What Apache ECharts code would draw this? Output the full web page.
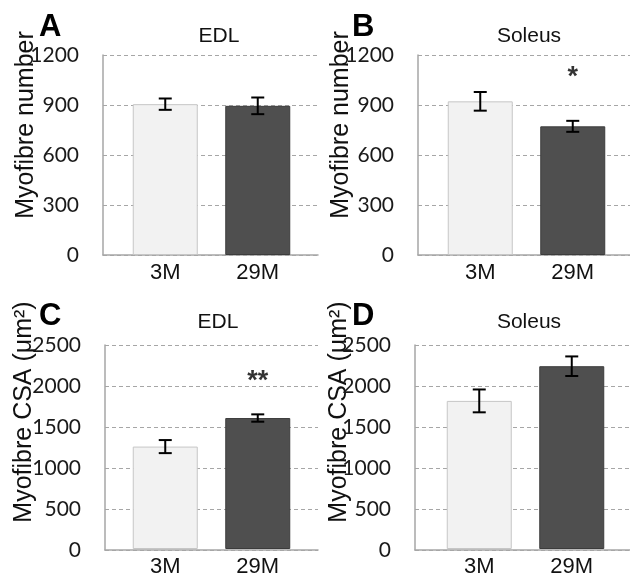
<!DOCTYPE html>
<html>
<head>
<meta charset="utf-8">
<script src="https://cdn.jsdelivr.net/npm/echarts@6/dist/echarts.min.js"></script>
<style>
  html, body { margin: 0; padding: 0; background: #fff; }
  #main { width: 630px; height: 578px; }
</style>
</head>
<body>
<div id="main"></div>
<script>
// data
var categories = ['3M', '29M'];

var edlNumber = [905, 895];
var edlNumberErr = [34, 50];
var soleusNumber = [922, 772];
var soleusNumberErr = [56, 33];

var edlCSA = [1255, 1605];
var edlCSAErr = [80, 45];
var soleusCSA = [1815, 2240];
var soleusCSAErr = [140, 120];

var numberAxis = { min: 0, max: 1200, interval: 300 };
var csaAxis = { min: 0, max: 2500, interval: 500 };

var soleusNumberSig = ['', '*'];
var edlCSASig = ['', '**'];

var barFill = ['#f2f2f2', '#4f4f4f'];
var barBorder = ['#c6c6c6', '#3c3c3c'];

var myChart = echarts.init(document.getElementById('main'));

// panels: frame grid (axes + gridlines) and bar grid (bars placed like in excel)
var panels = [
  { frame: { left: 103, top: 55, width: 215, height: 200 }, bars: { left: 119, width: 185 },
    axis: numberAxis, values: edlNumber, errs: edlNumberErr, sig: null },
  { frame: { left: 418, top: 55, width: 212, height: 200 }, bars: { left: 434, width: 185 },
    axis: numberAxis, values: soleusNumber, errs: soleusNumberErr, sig: soleusNumberSig, sigAt: 1065 },
  { frame: { left: 105, top: 345, width: 213, height: 205 }, bars: { left: 119, width: 185 },
    axis: csaAxis, values: edlCSA, errs: edlCSAErr, sig: edlCSASig, sigAt: 2050 },
  { frame: { left: 415, top: 345, width: 215, height: 205 }, bars: { left: 433, width: 185 },
    axis: csaAxis, values: soleusCSA, errs: soleusCSAErr, sig: null }
];

var grid = [], xAxis = [], yAxis = [], series = [];

panels.forEach(function (p, i) {
  var fi = i * 2, bi = i * 2 + 1;
  grid.push({ left: p.frame.left, top: p.frame.top, width: p.frame.width, height: p.frame.height });
  grid.push({ left: p.bars.left, top: p.frame.top, width: p.bars.width, height: p.frame.height });

  xAxis.push({
    gridIndex: fi, type: 'category', data: categories,
    axisLine: { lineStyle: { color: '#a6a6a6', width: 1.5 } },
    axisTick: { show: false }, axisLabel: { show: false }
  });
  xAxis.push({
    gridIndex: bi, type: 'category', data: categories,
    axisLine: { show: false }, axisTick: { show: false },
    axisLabel: { margin: 7, color: '#111', fontFamily: 'Liberation Sans', fontSize: 22 }
  });

  yAxis.push({
    gridIndex: fi, type: 'value', min: p.axis.min, max: p.axis.max, interval: p.axis.interval,
    axisLine: { show: true, lineStyle: { color: '#a6a6a6', width: 1.5 } },
    axisTick: { show: false },
    axisLabel: {
      margin: 24, color: '#1a1a1a', fontFamily: 'Lato', fontSize: 21,
      formatter: function (v) { return String(v); }
    },
    splitLine: { lineStyle: { color: '#a6a6a6', type: [4, 3], width: 1 } }
  });
  yAxis.push({
    gridIndex: bi, type: 'value', min: p.axis.min, max: p.axis.max, interval: p.axis.interval,
    show: false, splitLine: { show: false }
  });

  series.push({
    type: 'bar', xAxisIndex: bi, yAxisIndex: bi, barWidth: 65,
    data: p.values.map(function (v, k) {
      return { value: v, itemStyle: { color: barFill[k], borderColor: barBorder[k], borderWidth: 1 } };
    })
  });

  series.push({
    type: 'custom', xAxisIndex: bi, yAxisIndex: bi, z: 5,
    data: p.values.map(function (v, k) { return [k, v, p.errs[k]]; }),
    renderItem: function (params, api) {
      var x = api.value(0), v = api.value(1), e = api.value(2);
      var hi = api.coord([x, v + e]);
      var lo = api.coord([x, v - e]);
      var w = 6.5;
      var st = { stroke: '#000', lineWidth: 2 };
      return {
        type: 'group',
        children: [
          { type: 'line', shape: { x1: hi[0], y1: hi[1], x2: lo[0], y2: lo[1] }, style: st },
          { type: 'line', shape: { x1: hi[0] - w, y1: hi[1], x2: hi[0] + w, y2: hi[1] }, style: st },
          { type: 'line', shape: { x1: lo[0] - w, y1: lo[1], x2: lo[0] + w, y2: lo[1] }, style: st }
        ]
      };
    }
  });

  if (p.sig) {
    series.push({
      type: 'scatter', xAxisIndex: bi, yAxisIndex: bi, z: 6,
      symbol: 'circle', symbolSize: 1, itemStyle: { color: 'rgba(0,0,0,0)' },
      data: p.sig.map(function (s, k) { return { value: [k, p.sigAt], name: s }; }),
      label: {
        show: true, position: 'inside', formatter: '{b}',
        color: '#000', fontFamily: 'Liberation Sans', fontWeight: 'bold', fontSize: 27
      }
    });
  }
});

var titleStyle = { fill: '#111', font: '21px "Liberation Sans"', textAlign: 'center', textVerticalAlign: 'middle' };
var letterStyle = { fill: '#000', font: 'bold 31px "Liberation Sans"', textAlign: 'left', textVerticalAlign: 'middle' };
var nameStyle = { fill: '#111', font: '25px "Liberation Sans"', textAlign: 'center', textVerticalAlign: 'middle' };

function txt(x, y, text, style, rot) {
  return { type: 'text', x: x, y: y, rotation: rot || 0, style: Object.assign({ text: text }, style) };
}

var option = {
  animation: false,
  grid: grid,
  xAxis: xAxis,
  yAxis: yAxis,
  series: series,
  graphic: [
    txt(39, 27, 'A', letterStyle),
    txt(352, 27, 'B', letterStyle),
    txt(39, 316, 'C', letterStyle),
    txt(352, 316, 'D', letterStyle),
    txt(219, 36, 'EDL', titleStyle),
    txt(529, 36, 'Soleus', titleStyle),
    txt(218, 322, 'EDL', titleStyle),
    txt(529, 322, 'Soleus', titleStyle),
    txt(26, 125, 'Myofibre number', nameStyle, Math.PI / 2),
    txt(341, 125, 'Myofibre number', nameStyle, Math.PI / 2),
    txt(24, 412, 'Myofibre CSA (μm²)', nameStyle, Math.PI / 2),
    txt(339, 412, 'Myofibre CSA (μm²)', nameStyle, Math.PI / 2)
  ]
};

myChart.setOption(option);
</script>
</body>
</html>
